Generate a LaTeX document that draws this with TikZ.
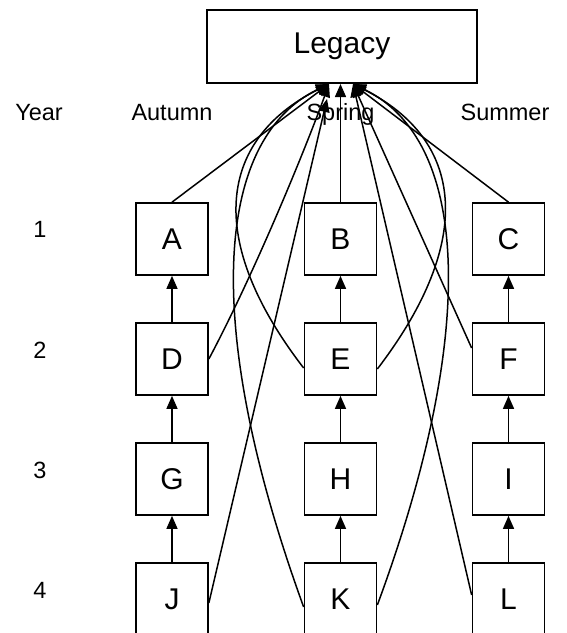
\documentclass[tikz,border=0pt]{standalone}
\usepackage{fontspec}
\setmainfont{Liberation Sans}
\usetikzlibrary{arrows.meta}
\begin{document}
\begin{tikzpicture}[x=1pt,y=-1pt,
  box/.style={draw,line width=1.7pt,minimum width=72pt,minimum height=72pt,inner sep=0pt,font=\fontsize{30}{33}\selectfont},
  lbl/.style={font=\fontsize{23.5}{26}\selectfont,inner sep=0pt,anchor=base},
  conn/.style={line width=1.5pt,-{Triangle[length=13pt,width=11pt]}}]
\useasboundingbox (0,0) rectangle (567,633);
\node[box,minimum width=270pt,minimum height=73pt] (leg) at (342,46.5) {Legacy};
\coordinate (tl) at (329,84);
\coordinate (tc) at (340.5,84);
\coordinate (tr) at (353,84);
\coordinate (tj) at (327,99);
% header labels
\node[lbl] (year) at (39,120) {Year};
\node[lbl] (aut) at (172,120) {Autumn};
\node[lbl] (spr) at (340.5,120) {Spring};
\node[lbl] (sum) at (505,120) {Summer};
\node[lbl] (y1) at (40,237) {1};
\node[lbl] (y2) at (40,358) {2};
\node[lbl] (y3) at (40,478) {3};
\node[lbl] (y4) at (40,598) {4};
% boxes
\node[box] (A) at (172,239) {A};
\node[box] (B) at (340.5,239) {B};
\node[box] (C) at (508.5,239) {C};
\node[box] (D) at (172,359) {D};
\node[box] (E) at (340.5,359) {E};
\node[box] (F) at (508.5,359) {F};
\node[box] (G) at (172,479) {G};
\node[box] (H) at (340.5,479) {H};
\node[box] (I) at (508.5,479) {I};
\node[box] (J) at (172,599) {J};
\node[box] (K) at (340.5,599) {K};
\node[box] (L) at (508.5,599) {L};
% vertical arrows
\foreach \lo/\hi in {D/A,E/B,F/C,G/D,H/E,I/F,J/G,K/H,L/I}
  \draw[conn] (\lo.north) -- (\hi.south);
% to legacy
\draw[conn] (A.north) -- (tl);
\draw[conn] (B.north) -- (tc);
\draw[conn] (C.north) -- (tr);
\draw[conn] (D.east) .. controls (255,272) and (305,150) .. (tl);
\draw[conn] ([yshift=-9pt]E.west) .. controls (205,240) and (218,140) .. (tl);
\draw[conn] ([yshift=-10pt]E.east) .. controls (476,240) and (464,140) .. (tr);
\draw[conn] ([yshift=11pt]F.west) -- (tr);
\draw[conn] ([yshift=-4pt]J.east) -- (tj);
\draw[conn] ([yshift=-8pt]K.west) .. controls (203,330) and (213,140) .. (tl);
\draw[conn] ([yshift=-6pt]K.east) .. controls (479,330) and (469,140) .. (tr);
\draw[conn] ([yshift=4pt]L.west) -- (tr);
\end{tikzpicture}
\end{document}
